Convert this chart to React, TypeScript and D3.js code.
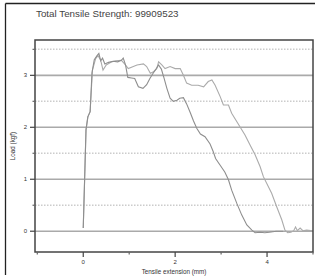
import React from "react";
import * as d3 from "d3";

const title = "Total Tensile Strength: 99909523";
const xLabel = "Tensile extension (mm)";
const yLabel = "Load (kgf)";
const xMajorTicks = [0, 2, 4];
const xMinorTicks = [-1, 1, 3, 5];
const yMajorTicks = [0, 1, 2, 3];
const yMinorTicks = [0.5, 1.5, 2.5, 3.5];

// Specimen A (fails first)
const extA = [0, 0.03, 0.06, 0.1, 0.15, 0.19, 0.24, 0.3, 0.34, 0.38, 0.42, 0.47, 0.55, 0.65, 0.75, 0.83, 0.87, 0.92, 0.97, 1.05, 1.12, 1.2, 1.3, 1.38, 1.45, 1.52, 1.59, 1.64, 1.7, 1.76, 1.82, 1.89, 1.96, 2.04, 2.1, 2.18, 2.25, 2.33, 2.4, 2.47, 2.55, 2.65, 2.76, 2.83, 2.88, 2.98, 3.08, 3.16, 3.23, 3.34, 3.45, 3.56, 3.67, 3.74, 3.85, 3.95, 4.05, 4.2, 4.35];
const loadA = [0.06, 1.0, 1.95, 2.2, 2.3, 3.05, 3.3, 3.38, 3.42, 3.28, 3.33, 3.22, 3.25, 3.27, 3.26, 3.29, 3.33, 3.2, 2.96, 2.95, 2.94, 2.78, 2.75, 2.82, 2.94, 3.04, 3.13, 3.2, 3.12, 2.94, 2.75, 2.56, 2.5, 2.52, 2.56, 2.57, 2.45, 2.28, 2.12, 1.98, 1.87, 1.82, 1.68, 1.53, 1.4, 1.27, 1.14, 0.99, 0.79, 0.54, 0.31, 0.12, 0.02, -0.03, -0.02, -0.03, -0.02, 0.0, 0.0];

// Specimen B (fails later)
const extB = [0, 0.03, 0.06, 0.1, 0.15, 0.2, 0.27, 0.32, 0.38, 0.43, 0.5, 0.6, 0.7, 0.83, 0.9, 0.98, 1.09, 1.17, 1.31, 1.38, 1.46, 1.53, 1.6, 1.64, 1.71, 1.78, 1.89, 2.0, 2.11, 2.18, 2.25, 2.36, 2.5, 2.62, 2.72, 2.8, 2.87, 2.98, 3.05, 3.16, 3.23, 3.34, 3.41, 3.52, 3.63, 3.74, 3.85, 3.92, 4.1, 4.21, 4.32, 4.39, 4.45, 4.52, 4.58, 4.62, 4.66, 4.72, 4.78, 4.86, 5.0];
const loadB = [0.06, 1.0, 1.95, 2.2, 2.3, 3.1, 3.32, 3.38, 3.29, 3.1, 3.2, 3.25, 3.28, 3.29, 3.22, 3.13, 3.17, 3.2, 3.22, 3.17, 3.04, 3.07, 3.13, 3.26, 3.2, 3.13, 3.17, 3.13, 3.13, 3.0, 2.85, 2.81, 2.81, 2.78, 2.88, 2.91, 2.81, 2.59, 2.43, 2.43, 2.27, 2.11, 2.01, 1.85, 1.66, 1.47, 1.24, 1.05, 0.73, 0.47, 0.22, 0.02, -0.03, -0.02, 0.01, 0.08, 0.01, 0.06, 0.01, 0.02, 0.01];

export default function App() {
  const W = 315, H = 277;
  const left = 35, right = 313, top = 40, bottom = 252;
  const x = d3.scaleLinear().domain([-1.05, 5.0]).range([left, right]);
  const y = d3.scaleLinear().domain([-0.4, 3.68]).range([bottom, top]);
  const line = d3.line<[number, number]>().x(d => x(d[0])).y(d => y(d[1])).curve(d3.curveLinear);
  const dataA: [number, number][] = extA.map((e, i) => [e, loadA[i]]);
  const dataB: [number, number][] = extB.map((e, i) => [e, loadB[i]]);
  const font = "'Liberation Sans', Arial, sans-serif";
  return (
    <svg width={W} height={H} style={{ position: "absolute", left: 0, top: 0, background: "#fff" }} fontFamily={font}>
      <rect x={0} y={0} width={W} height={H} fill="#fff" />
      {/* outer border */}
      <line x1={5.5} y1={3.5} x2={W} y2={3.5} stroke="#222" strokeWidth={1.3} />
      <line x1={5.5} y1={3.5} x2={5.5} y2={275} stroke="#222" strokeWidth={1.3} />
      <text x={36} y={17} fontSize={9.8} fill="#444">{title}</text>
      {/* minor grid */}
      {yMinorTicks.map(t => (
        <line key={"gm" + t} x1={left} x2={right} y1={y(t)} y2={y(t)} stroke="#ccc" strokeWidth={1.5} strokeDasharray="1.5,1.5" />
      ))}
      {yMajorTicks.map(t => (
        <line key={"gM" + t} x1={left} x2={right} y1={y(t)} y2={y(t)} stroke="#aaa" strokeWidth={1.6} />
      ))}
      {/* curves */}
      <path d={line(dataB) || ""} fill="none" stroke="#ababab" strokeWidth={1.1} />
      <path d={line(dataA) || ""} fill="none" stroke="#8e8e8e" strokeWidth={1.1} />
      {/* frame */}
      <rect x={left} y={top} width={right - left} height={bottom - top} fill="none" stroke="#444" strokeWidth={1.5} />
      {/* y ticks */}
      {yMajorTicks.map(t => (
        <g key={"yt" + t}>
          <line x1={left - 5} x2={left} y1={y(t)} y2={y(t)} stroke="#444" strokeWidth={1.2} />
          <text x={left - 8} y={y(t) + 2} fontSize={6} textAnchor="end" fill="#333">{t}</text>
        </g>
      ))}
      {yMinorTicks.map(t => (
        <line key={"ym" + t} x1={left - 2.5} x2={left} y1={y(t)} y2={y(t)} stroke="#666" strokeWidth={1.2} />
      ))}
      {/* x ticks */}
      {xMajorTicks.map(t => (
        <g key={"xt" + t}>
          <line x1={x(t)} x2={x(t)} y1={bottom} y2={bottom + 5} stroke="#444" strokeWidth={1.2} />
          <text x={x(t)} y={bottom + 12} fontSize={6} textAnchor="middle" fill="#333">{t}</text>
        </g>
      ))}
      {xMinorTicks.map(t => (
        <line key={"xm" + t} x1={x(t)} x2={x(t)} y1={bottom} y2={bottom + 2.5} stroke="#666" strokeWidth={1.2} />
      ))}
      <text x={174} y={274} fontSize={6.3} textAnchor="middle" fill="#333">{xLabel}</text>
      <text transform={`translate(15,${(top + bottom) / 2}) rotate(-90)`} fontSize={6.3} textAnchor="middle" fill="#333">{yLabel}</text>
    </svg>
  );
}
